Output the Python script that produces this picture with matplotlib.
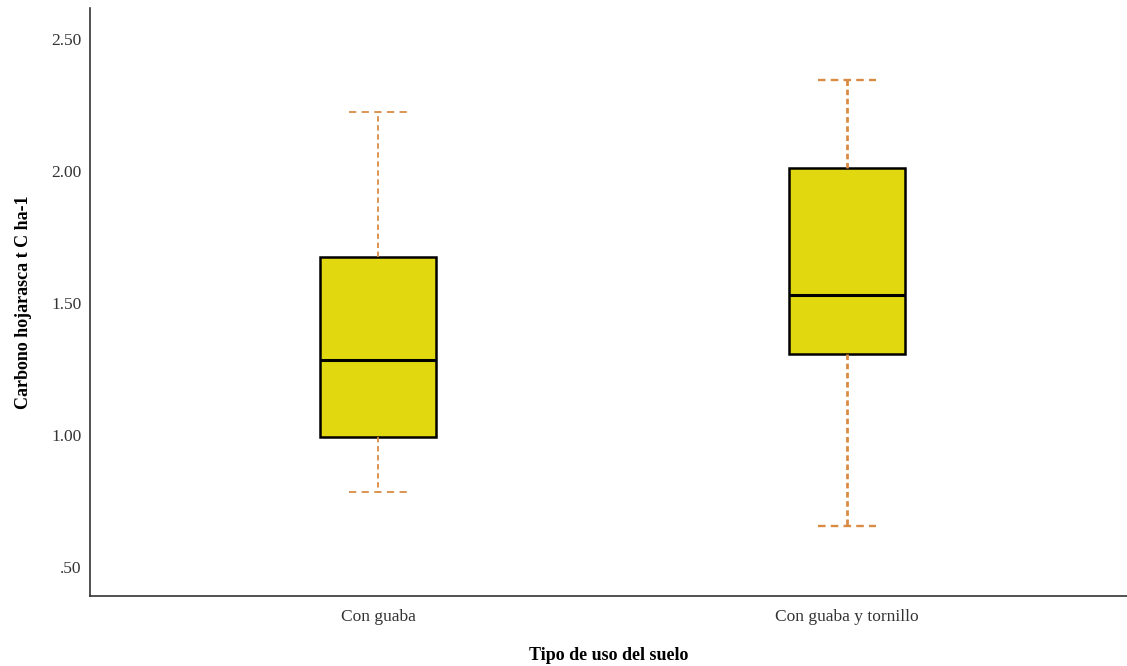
import matplotlib.pyplot as plt
from matplotlib.ticker import FuncFormatter

plt.rcParams['font.family'] = ['Liberation Serif', 'DejaVu Serif']

# five-number summaries per land-use group
groups = ['Con guaba', 'Con guaba y tornillo']
whisker_low = [0.784, 0.655]
q1 = [0.992, 1.307]
median = [1.284, 1.530]
q3 = [1.674, 2.011]
whisker_high = [2.223, 2.345]

stats = []
for i, name in enumerate(groups):
    stats.append({'label': name, 'whislo': whisker_low[i], 'q1': q1[i],
                  'med': median[i], 'q3': q3[i], 'whishi': whisker_high[i],
                  'fliers': []})

fig = plt.figure(figsize=(11.27, 6.66), dpi=100)
ax = fig.add_axes([0.0799, 0.105, 0.9201, 0.883])

orange = '#D98B43'
bp = ax.bxp(stats, positions=[1, 2], widths=0.247, patch_artist=True,
            showfliers=False,
            boxprops=dict(facecolor='#E2D810', edgecolor='black',
                          linewidth=1.8),
            medianprops=dict(color='black', linewidth=2.2),
            whiskerprops=dict(color=orange, linewidth=1.3,
                              linestyle=(0, (3, 2))),
            capprops=dict(color=orange, linewidth=1.3,
                          linestyle=(0, (4, 3))),
            capwidths=0.124)

# second group's whiskers are drawn heavier
for line in bp['whiskers'][2:]:
    line.set_linewidth(2.0)
    line.set_linestyle((0, (2, 1.3)))
for line in bp['caps'][2:]:
    line.set_linewidth(1.7)
    line.set_linestyle((0, (3.2, 2.2)))

ax.set_xlim(0.386, 2.597)
ax.set_ylim(0.39, 2.617)
ax.set_yticks([0.5, 1.0, 1.5, 2.0, 2.5])
ax.yaxis.set_major_formatter(FuncFormatter(
    lambda v, p: ('%.2f' % v).lstrip('0')))
ax.tick_params(length=0, labelsize=12.5, pad=6, colors='#333333')
ax.tick_params(axis='x', pad=9)

for side in ['top', 'right']:
    ax.spines[side].set_visible(False)
for side in ['left', 'bottom']:
    ax.spines[side].set_linewidth(1.2)
    ax.spines[side].set_color('#333333')

ax.set_ylabel('Carbono hojarasca t C ha-1', fontsize=13, fontweight='bold',
              labelpad=14)
ax.set_xlabel('Tipo de uso del suelo', fontsize=13, fontweight='bold',
              labelpad=16)

fig.savefig('out.png', dpi=100)
plt.close(fig)
